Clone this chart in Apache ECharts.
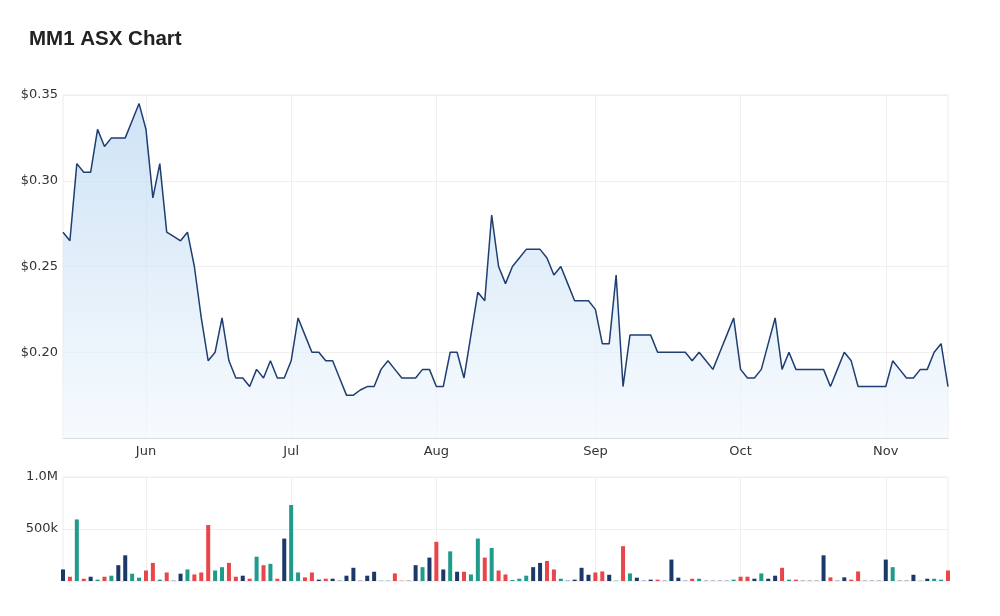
<!DOCTYPE html>
<html>
<head>
<meta charset="utf-8">
<script src="https://cdn.jsdelivr.net/npm/echarts@6/dist/echarts.min.js"></script>
<style>
  html, body { margin: 0; padding: 0; background: #fff; }
  #chart { width: 1000px; height: 616px; }
</style>
</head>
<body>
<div id="chart"></div>
<script>
// trading days, May 16 to Nov 14 2022
var dates = [
    '2022-05-16','2022-05-17','2022-05-18','2022-05-19','2022-05-20','2022-05-23','2022-05-24','2022-05-25','2022-05-26','2022-05-27','2022-05-30','2022-05-31',
    '2022-06-01','2022-06-02','2022-06-03','2022-06-06','2022-06-07','2022-06-08','2022-06-09','2022-06-10','2022-06-14','2022-06-15','2022-06-16','2022-06-17','2022-06-20','2022-06-21','2022-06-22','2022-06-23','2022-06-24','2022-06-27','2022-06-28','2022-06-29','2022-06-30',
    '2022-07-01','2022-07-04','2022-07-05','2022-07-06','2022-07-07','2022-07-08','2022-07-11','2022-07-12','2022-07-13','2022-07-14','2022-07-15','2022-07-18','2022-07-19','2022-07-20','2022-07-21','2022-07-22','2022-07-25','2022-07-26','2022-07-27','2022-07-28','2022-07-29',
    '2022-08-01','2022-08-02','2022-08-03','2022-08-04','2022-08-05','2022-08-08','2022-08-09','2022-08-10','2022-08-11','2022-08-12','2022-08-15','2022-08-16','2022-08-17','2022-08-18','2022-08-19','2022-08-22','2022-08-23','2022-08-24','2022-08-25','2022-08-26','2022-08-29','2022-08-30','2022-08-31',
    '2022-09-01','2022-09-02','2022-09-05','2022-09-06','2022-09-07','2022-09-08','2022-09-09','2022-09-12','2022-09-13','2022-09-14','2022-09-15','2022-09-16','2022-09-19','2022-09-20','2022-09-21','2022-09-23','2022-09-26','2022-09-27','2022-09-28','2022-09-29','2022-09-30',
    '2022-10-03','2022-10-04','2022-10-05','2022-10-06','2022-10-07','2022-10-10','2022-10-11','2022-10-12','2022-10-13','2022-10-14','2022-10-17','2022-10-18','2022-10-19','2022-10-20','2022-10-21','2022-10-24','2022-10-25','2022-10-26','2022-10-27','2022-10-28','2022-10-31',
    '2022-11-01','2022-11-02','2022-11-03','2022-11-04','2022-11-07','2022-11-08','2022-11-09','2022-11-10','2022-11-11','2022-11-14'
];

var closePrice = [
    0.27, 0.265, 0.31, 0.305, 0.305, 0.33, 0.32, 0.325, 0.325, 0.325, 0.335, 0.345,
    0.33, 0.29, 0.31, 0.27, 0.2675, 0.265, 0.27, 0.25, 0.22, 0.195, 0.20, 0.22, 0.195, 0.185, 0.185, 0.18, 0.19, 0.185, 0.195, 0.185, 0.185,
    0.195, 0.22, 0.21, 0.20, 0.20, 0.195, 0.195, 0.185, 0.175, 0.175, 0.178, 0.18, 0.18, 0.19, 0.195, 0.19, 0.185, 0.185, 0.185, 0.19, 0.19,
    0.18, 0.18, 0.20, 0.20, 0.185, 0.21, 0.235, 0.23, 0.28, 0.25, 0.24, 0.25, 0.255, 0.26, 0.26, 0.26, 0.255, 0.245, 0.25, 0.24, 0.23, 0.23, 0.23,
    0.225, 0.205, 0.205, 0.245, 0.18, 0.21, 0.21, 0.21, 0.21, 0.20, 0.20, 0.20, 0.20, 0.20, 0.195, 0.20, 0.195, 0.19, 0.20, 0.21, 0.22,
    0.19, 0.185, 0.185, 0.19, 0.205, 0.22, 0.19, 0.20, 0.19, 0.19, 0.19, 0.19, 0.19, 0.18, 0.19, 0.20, 0.195, 0.18, 0.18, 0.18, 0.18,
    0.18, 0.195, 0.19, 0.185, 0.185, 0.19, 0.19, 0.20, 0.205, 0.18
];

// volume in thousands
var volume = [
    111, 41, 592, 22, 41, 13, 41, 51, 152, 247, 70, 32,
    101, 174, 13, 82, 8, 70, 111, 63, 82, 538, 101, 133, 174, 41, 51, 22, 234, 152, 165, 22, 408,
    731, 82, 35, 82, 13, 22, 22, 8, 51, 127, 8, 51, 89, 8, 8, 73, 8, 8, 152, 133, 225,
    377, 111, 285, 89, 89, 63, 408, 225, 317, 101, 63, 10, 22, 51, 133, 174, 193, 111, 22, 8, 13, 127, 60,
    82, 92, 60, 8, 335, 73, 32, 8, 13, 13, 8, 206, 32, 8, 22, 22, 8, 8, 8, 8, 13,
    41, 41, 22, 73, 22, 51, 127, 13, 13, 8, 8, 8, 247, 35, 8, 35, 13, 92, 8, 8, 8,
    206, 133, 8, 8, 60, 8, 22, 22, 13, 101
];

// u = up (teal), d = down (red), f = flat (navy)
var volumeDir = [
    'f','d','u','d','f','u','d','u','f','f','u','u',
    'd','d','u','d','f','f','u','d','d','d','u','u','d','d','f','d','u','d','u','d','f',
    'u','u','d','d','f','d','f','f','f','f','f','f','f','u','u','d','d','f','f','u','f',
    'd','f','u','f','d','u','u','d','u','d','d','u','u','u','f','f','d','d','u','f','f','f','f',
    'd','d','f','u','d','u','f','f','f','d','f','f','f','f','d','u','f','f','f','f','u',
    'd','d','f','u','f','f','d','u','d','f','f','f','f','d','f','f','d','d','f','f','f',
    'f','u','f','f','f','u','f','u','u','d'
];

var monthNames = ['Jan','Feb','Mar','Apr','May','Jun','Jul','Aug','Sep','Oct','Nov','Dec'];
var dirColors = { u: '#1f9a8b', d: '#e8464a', f: '#1b3869' };

function isMonthStart(index) {
    if (index === 0) return false;
    return dates[index].substr(5, 2) !== dates[index - 1].substr(5, 2);
}

var volumeData = [];
for (var i = 0; i < volume.length; i++) {
    volumeData.push({
        value: volume[i] * 1000,
        itemStyle: {
            color: dirColors[volumeDir[i]],
            // very small bars look washed out in the original
            opacity: volume[i] < 10 ? 0.35 : 1
        }
    });
}

var titleFont = 'Arial, "Liberation Sans", sans-serif';
var labelFont = '"DejaVu Sans", sans-serif';

var chartDom = document.getElementById('chart');
var myChart = echarts.init(chartDom);
var option;

option = {
    animation: false,
    title: {
        text: 'MM1 ASX Chart',
        left: 24,
        top: 24,
        textStyle: { fontSize: 20.5, fontWeight: 'bold', color: '#222', fontFamily: titleFont }
    },
    grid: [
        { left: 63, right: 52, top: 95, height: 343, show: true, borderColor: '#ececec', borderWidth: 1 },
        { left: 63, right: 52, top: 477, height: 104, show: true, borderColor: '#ececec', borderWidth: 1 }
    ],
    xAxis: [
        {
            type: 'category',
            gridIndex: 0,
            data: dates,
            boundaryGap: false,
            axisLine: { show: true, lineStyle: { color: '#dddddd' } },
            axisTick: { show: false },
            axisLabel: {
                interval: function (index) { return isMonthStart(index); },
                formatter: function (value) { return monthNames[parseInt(value.substr(5, 2), 10) - 1]; },
                color: '#333',
                fontSize: 13,
                margin: 7,
                fontFamily: labelFont
            },
            splitLine: {
                show: true,
                interval: function (index) { return isMonthStart(index); },
                lineStyle: { color: '#efefef' }
            }
        },
        {
            type: 'category',
            gridIndex: 1,
            data: dates,
            boundaryGap: false,
            axisLine: { show: false },
            axisTick: { show: false },
            axisLabel: { show: false },
            splitLine: {
                show: true,
                interval: function (index) { return isMonthStart(index); },
                lineStyle: { color: '#efefef' }
            }
        }
    ],
    yAxis: [
        {
            type: 'value',
            gridIndex: 0,
            min: 0.15,
            max: 0.35,
            interval: 0.05,
            axisLine: { show: false },
            axisTick: { show: false },
            axisLabel: {
                formatter: function (v) { return v < 0.16 ? '' : '$' + v.toFixed(2); },
                color: '#333',
                fontSize: 13,
                margin: 5,
                fontFamily: labelFont
            },
            splitLine: { lineStyle: { color: '#efefef' } }
        },
        {
            type: 'value',
            gridIndex: 1,
            min: 0,
            max: 1000000,
            interval: 500000,
            axisLine: { show: false },
            axisTick: { show: false },
            axisLabel: {
                formatter: function (v) {
                    if (v === 0) return '';
                    if (v >= 1000000) return (v / 1000000).toFixed(1) + 'M';
                    return (v / 1000) + 'k';
                },
                color: '#333',
                fontSize: 13,
                margin: 5,
                fontFamily: labelFont
            },
            splitLine: { lineStyle: { color: '#efefef' } }
        }
    ],
    series: [
        {
            name: 'Price',
            type: 'line',
            xAxisIndex: 0,
            yAxisIndex: 0,
            data: closePrice,
            symbol: 'none',
            lineStyle: { color: '#1f3e72', width: 1.5 },
            areaStyle: {
                color: new echarts.graphic.LinearGradient(0, 0, 0, 1, [
                    { offset: 0, color: '#b9d7f1' },
                    { offset: 1, color: '#f3f8fd' }
                ])
            }
        },
        {
            name: 'Volume',
            type: 'bar',
            xAxisIndex: 1,
            yAxisIndex: 1,
            data: volumeData,
            barWidth: 4
        }
    ]
};

myChart.setOption(option);
</script>
</body>
</html>
